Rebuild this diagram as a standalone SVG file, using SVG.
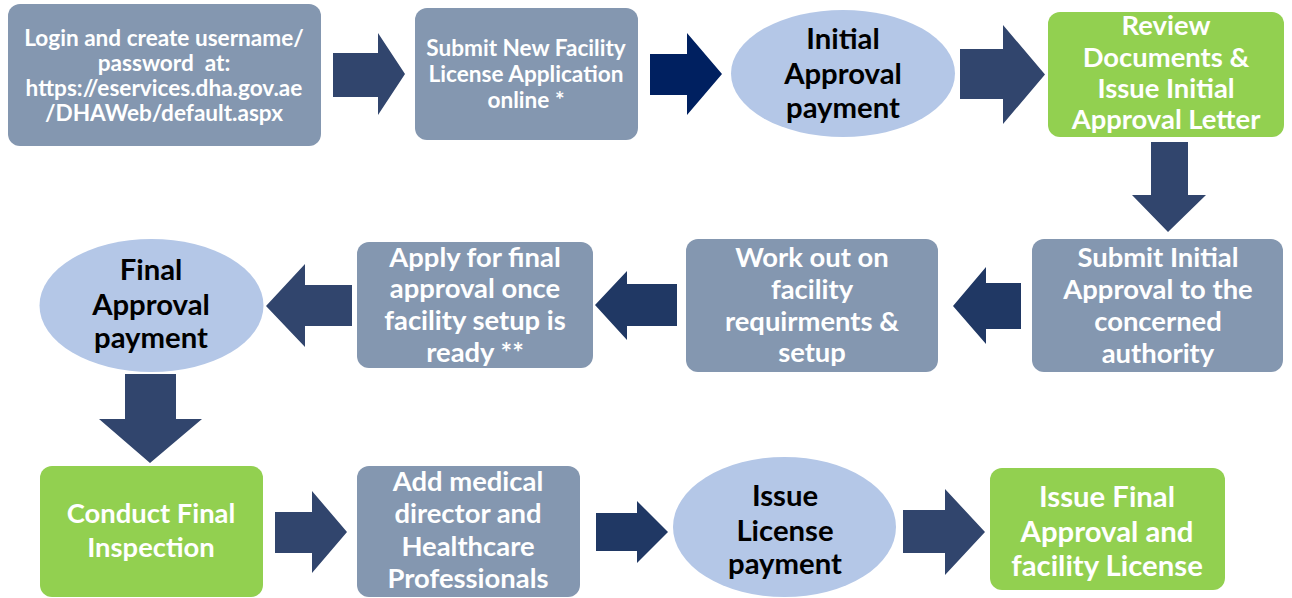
<svg xmlns="http://www.w3.org/2000/svg" width="1292" height="598" viewBox="0 0 1292 598">
<style>
.box{fill:#8497B0}
.grn{fill:#92D050}
.ell{fill:#B4C7E7}
.a{fill:#31456D}
.ad{fill:#203864}
.an{fill:#002060}
text{font-family:Lato,"Open Sans","Liberation Sans",sans-serif;font-weight:bold;text-anchor:middle}
.w{fill:#FFFFFF}
.k{fill:#000000}
.s1{font-size:22.6px}
.s2{font-size:27.4px}
.s3{font-size:29.3px}
</style>
<rect width="1292" height="598" fill="#FFFFFF"/>
<g id="connectors">
<polygon class="a" points="333,53 378,53 378,33 405,74 378,115 378,97 333,97"/>
<polygon class="an" points="650,54 687,54 687,33 722,74 687,115 687,95 650,95"/>
<polygon class="a" points="960,49 1003,49 1003,25 1045,74.5 1003,124 1003,99 960,99"/>
<polygon class="a" points="1151,142 1188,142 1188,195 1206,195 1168,232 1132,195 1151,195"/>
<polygon class="ad" points="1021,283 986,283 986,267 953,306 986,344 986,329 1021,329"/>
<polygon class="ad" points="677,284 627,284 627,271 595,305 627,340 627,326 677,326"/>
<polygon class="a" points="352,285 305,285 305,264 266,306 305,347 305,326 352,326"/>
<polygon class="a" points="125,374 176,374 176,419 202,419 150,463 99,419 125,419"/>
<polygon class="a" points="275,512 312,512 312,491 347,532 312,573 312,553 275,553"/>
<polygon class="ad" points="596,513 637,513 637,501 668,532 637,563 637,551 596,551"/>
<polygon class="a" points="903,510 945,510 945,489 985,532 945,575 945,553 903,553"/>
</g>
<g id="n1">
<rect class="box" x="8" y="4" width="313" height="142" rx="12"/>
<text class="w s1" x="164" y="46">Login and create username/</text>
<text class="w s1" x="164" y="71" xml:space="preserve">password  at:</text>
<text class="w s1" x="164" y="96">https://eservices.dha.gov.ae</text>
<text class="w s1" x="164" y="121">/DHAWeb/default.aspx</text>
</g>
<g id="n2">
<rect class="box" x="415" y="8" width="223" height="132" rx="12"/>
<text class="w s1" x="526" y="56">Submit New Facility</text>
<text class="w s1" x="526" y="82">License Application</text>
<text class="w s1" x="526" y="108">online *</text>
</g>
<g id="n3">
<ellipse class="ell" cx="843" cy="73.5" rx="112" ry="63.5"/>
<text class="k s3" x="843" y="49">Initial</text>
<text class="k s3" x="843" y="84">Approval</text>
<text class="k s3" x="843" y="118">payment</text>
</g>
<g id="n4">
<rect class="grn" x="1048" y="12" width="236" height="125" rx="12"/>
<text class="w s2" x="1166" y="35">Review</text>
<text class="w s2" x="1166" y="67">Documents &amp;</text>
<text class="w s2" x="1166" y="98">Issue Initial</text>
<text class="w s2" x="1166" y="129">Approval Letter</text>
</g>
<g id="n5">
<rect class="box" x="1032" y="239" width="251" height="133" rx="12"/>
<text class="w s2" x="1158" y="267">Submit Initial</text>
<text class="w s2" x="1158" y="299">Approval to the</text>
<text class="w s2" x="1158" y="331">concerned</text>
<text class="w s2" x="1158" y="363">authority</text>
</g>
<g id="n6">
<rect class="box" x="686" y="239" width="252" height="133" rx="12"/>
<text class="w s2" x="812" y="267">Work out on</text>
<text class="w s2" x="812" y="299">facility</text>
<text class="w s2" x="812" y="331">requirments &amp;</text>
<text class="w s2" x="812" y="362">setup</text>
</g>
<g id="n7">
<rect class="box" x="357" y="242" width="236" height="126" rx="12"/>
<text class="w s2" x="475" y="267">Apply for final</text>
<text class="w s2" x="475" y="298">approval once</text>
<text class="w s2" x="475" y="330">facility setup is</text>
<text class="w s2" x="475" y="362">ready **</text>
</g>
<g id="n8">
<ellipse class="ell" cx="151.5" cy="305.5" rx="112" ry="66.5"/>
<text class="k s3" x="151" y="280">Final</text>
<text class="k s3" x="151" y="315">Approval</text>
<text class="k s3" x="151" y="348">payment</text>
</g>
<g id="n9">
<rect class="grn" x="40" y="466" width="223" height="131" rx="12"/>
<text class="w s2" x="151" y="523">Conduct Final</text>
<text class="w s2" x="151" y="557">Inspection</text>
</g>
<g id="n10">
<rect class="box" x="357" y="466" width="223" height="131" rx="12"/>
<text class="w s2" x="468" y="491">Add medical</text>
<text class="w s2" x="468" y="523">director and</text>
<text class="w s2" x="468" y="556">Healthcare</text>
<text class="w s2" x="468" y="588">Professionals</text>
</g>
<g id="n11">
<ellipse class="ell" cx="784.5" cy="527" rx="111.5" ry="70"/>
<text class="k s3" x="785" y="506">Issue</text>
<text class="k s3" x="785" y="541">License</text>
<text class="k s3" x="785" y="574">payment</text>
</g>
<g id="n12">
<rect class="grn" x="990" y="468" width="235" height="122" rx="12"/>
<text class="w s3" x="1107" y="507">Issue Final</text>
<text class="w s3" x="1107" y="542">Approval and</text>
<text class="w s3" x="1107" y="576">facility License</text>
</g>
</svg>
